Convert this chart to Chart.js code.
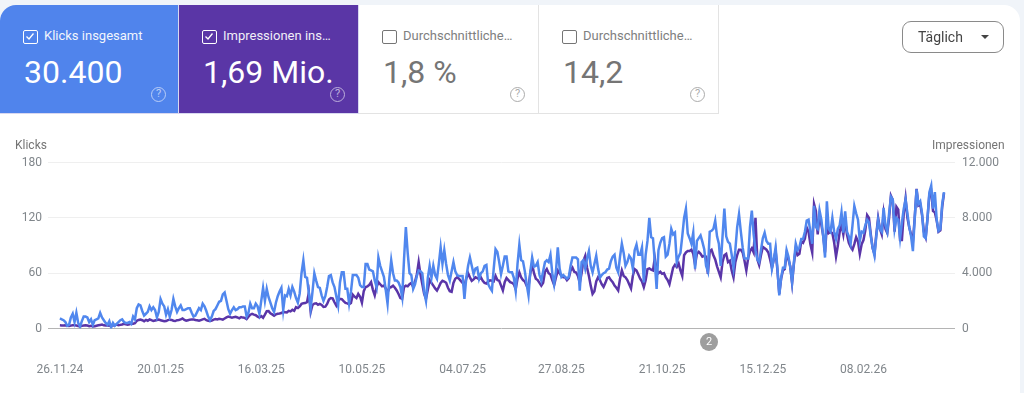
<!DOCTYPE html>
<html lang="de">
<head>
<meta charset="utf-8">
<title>Leistung</title>
<script src="https://cdn.jsdelivr.net/npm/chart.js@4"></script>
<style>
  html, body { margin: 0; padding: 0; background: #f0f4f9; }
  body { width: 1024px; height: 393px; overflow: hidden; position: relative; font-family: Roboto, sans-serif; }
  #panel { position: absolute; left: 0; top: 5px; width: 1020px; height: 388px; background: #fff; border-radius: 16px 16px 0 0; }
  #chart { position: absolute; left: 0; top: 0; }
  .card { position: absolute; top: 5px; height: 109px; box-sizing: border-box; color: #757575; background: #fff; border-right: 1px solid #e3e3e3; border-bottom: 1px solid #e3e3e3; }
  .card.on { color: #fff; border-color: #d8d8f0; }
  .card .box { position: absolute; left: 23px; top: 25px; width: 15px; height: 14px; box-sizing: border-box; border: 1.5px solid #757575; border-radius: 2px; }
  .card.on .box { border-color: #fff; }
  .card .box svg { position: absolute; left: 1px; top: 1px; }
  .card .name { position: absolute; left: 44px; top: 22px; font-size: 13px; line-height: 17px; white-space: nowrap; opacity: .92; }
  .card .val { position: absolute; left: 24px; top: 47px; font-size: 32px; line-height: 40px; white-space: nowrap; }
  .card .help { position: absolute; left: 151px; top: 82px; width: 15px; height: 15px; box-sizing: border-box; border: 1.5px solid currentColor; border-radius: 50%; font-size: 11px; line-height: 12px; text-align: center; opacity: .6; }
  .axis-name { position: absolute; top: 138px; font-size: 12px; line-height: 14px; color: #757575; }
  #range { position: absolute; left: 902px; top: 21px; width: 102px; height: 32px; box-sizing: border-box; border: 1px solid #8a8a8a; border-radius: 9px; font-size: 14px; line-height: 30px; color: #444; padding-left: 15px; }
  #range i { position: absolute; left: 78px; top: 13px; width: 0; height: 0; border-left: 4.5px solid transparent; border-right: 4.5px solid transparent; border-top: 4.5px solid #444; }
  #note { position: absolute; left: 700px; top: 333px; width: 18px; height: 18px; border-radius: 50%; background: #9e9e9e; color: #fff; font-size: 11px; line-height: 18px; text-align: center; }
</style>
</head>
<body>
<div id="panel"></div>
<canvas id="chart" width="1024" height="393"></canvas>

<div class="card on" style="left:0;width:179px;background:#5084ec;border-radius:16px 0 0 0">
  <div class="box"><svg width="10" height="9" viewBox="0 0 10 9"><path d="M1.5 4.5 L4 7 L8.5 1.5" fill="none" stroke="#fff" stroke-width="1.3"/></svg></div>
  <div class="name">Klicks insgesamt</div><div class="val">30.400</div><div class="help">?</div>
</div>
<div class="card on" style="left:179px;width:180px;background:#5a36a6">
  <div class="box"><svg width="10" height="9" viewBox="0 0 10 9"><path d="M1.5 4.5 L4 7 L8.5 1.5" fill="none" stroke="#fff" stroke-width="1.3"/></svg></div>
  <div class="name">Impressionen ins…</div><div class="val">1,69 Mio.</div><div class="help">?</div>
</div>
<div class="card" style="left:359px;width:180px">
  <div class="box"></div><div class="name">Durchschnittliche…</div><div class="val">1,8 %</div><div class="help">?</div>
</div>
<div class="card" style="left:539px;width:180px">
  <div class="box"></div><div class="name">Durchschnittliche…</div><div class="val">14,2</div><div class="help">?</div>
</div>

<div id="range">Täglich<i></i></div>
<div class="axis-name" style="left:15px">Klicks</div>
<div class="axis-name" style="left:932px">Impressionen</div>
<div id="note">2</div>

<script>
// Tagesindex der Achsenbeschriftungen und ihre Texte
const tickDays = [0, 55, 110, 165, 220, 274, 329, 384, 439];
const tickLabels = ['26.11.24', '20.01.25', '16.03.25', '10.05.25', '04.07.25', '27.08.25', '21.10.25', '15.12.25', '08.02.26'];

const clickTicks = [0, 60, 120, 180];
const impressionTicks = [0, 4000, 8000, 12000];

// Klicks pro Tag
const klicks = [
  11,10,9,7,3,4,12,16,7,17,
  6,2,8,13,13,12,7,10,4,9,
  10,11,17,12,9,6,4,8,1,6,
  3,5,7,9,10,7,6,6,7,5,
  13,10,22,26,25,19,14,16,18,24,
  20,23,20,12,18,32,27,24,15,21,
  13,20,32,24,18,22,25,20,20,21,
  22,22,17,13,14,18,22,20,27,24,
  19,13,9,13,19,21,25,29,30,37,
  39,30,21,16,20,23,20,21,23,23,
  24,24,13,17,27,22,22,27,24,16,
  30,44,30,43,34,28,22,18,28,35,
  40,44,20,36,35,43,36,45,40,33,
  28,38,60,74,56,55,38,22,40,60,
  52,45,44,36,30,35,45,57,58,50,
  45,35,25,50,61,61,43,43,27,40,
  58,58,58,55,47,45,45,70,70,64,
  63,62,52,45,77,68,62,56,42,27,
  55,74,60,52,52,50,45,34,75,110,
  82,60,58,43,48,57,63,62,60,40,
  30,55,68,55,68,58,54,70,88,70,
  85,70,58,52,62,72,62,58,57,57,
  57,32,55,68,77,68,59,65,66,54,
  60,62,68,69,48,44,41,65,86,83,
  72,59,68,78,78,62,61,61,55,41,
  70,91,74,73,62,48,36,62,77,67,
  68,72,58,52,62,72,74,72,80,60,
  48,62,88,65,56,58,56,54,56,68,
  77,77,77,75,41,72,74,65,76,84,
  68,61,70,79,65,55,58,60,61,64,
  65,73,78,80,66,61,78,92,82,68,
  72,79,76,65,85,91,80,80,88,50,
  80,95,120,99,98,72,43,85,93,98,
  99,78,80,92,108,102,104,72,78,82,
  100,120,130,103,98,92,104,65,95,98,
  101,94,86,68,62,105,106,108,117,100,
  92,68,100,130,100,94,92,80,66,85,
  110,124,105,88,76,76,76,110,128,102,
  85,75,72,85,98,104,95,92,92,65,
  75,88,65,36,55,66,66,85,78,66,
  50,72,92,85,88,97,97,105,117,118,
  105,92,133,110,108,128,118,100,77,138,
  108,105,120,105,97,108,112,126,104,127,
  105,100,92,112,133,125,118,95,105,104,
  112,118,115,100,88,79,100,118,108,105,
  131,112,105,125,143,140,108,120,118,98,
  115,130,140,125,110,100,84,120,151,135,
  138,125,100,98,120,148,155,130,148,118,
  106,108,135,148
];

// Impressionen pro Tag
const impressionen = [
  230,220,210,230,200,190,210,240,230,220,
  180,150,190,220,230,210,170,200,140,160,
  200,240,260,280,230,210,220,200,240,220,
  230,280,230,260,290,340,300,270,300,350,
  340,380,560,620,640,600,530,620,560,650,
  600,540,580,620,640,600,560,520,540,610,
  640,620,560,540,600,620,660,720,620,560,
  600,640,660,660,620,590,560,610,660,700,
  600,560,540,570,640,680,650,700,680,640,
  720,800,860,820,780,820,840,800,740,830,
  790,770,680,850,1000,1060,1000,960,860,800,
  900,780,1000,1250,1260,1100,1020,930,1020,1060,
  1080,1120,1200,1180,1160,1280,1240,1350,1280,1540,
  1480,1600,1780,1820,1840,1900,2600,1200,1700,1800,
  1820,1720,1780,1700,1560,1580,1780,2100,2200,2180,
  1900,1660,2000,2150,2120,1980,1850,1820,1750,1850,
  2450,2300,2200,2500,2300,1870,2700,3000,3050,3150,
  3350,2800,2400,3000,3350,3200,3050,3100,2900,2600,
  2950,3000,3100,2950,2750,2500,2200,2150,3000,3100,
  3050,3200,3300,3000,3400,3900,4800,3900,3200,2500,
  2150,2800,3500,3300,3100,2900,2750,3000,3300,3450,
  3400,3300,2950,2700,2650,3300,3600,3700,3600,3450,
  3300,3100,3600,4000,3700,3450,3550,3700,3650,3550,
  3700,3450,3300,3250,3400,3480,3450,3400,3800,3500,
  3450,3100,2750,3350,3650,3500,3350,3300,3200,2850,
  3600,4050,3700,3500,3400,3100,3050,4000,4650,4000,
  3600,3500,3300,3100,3300,4100,4300,4000,3900,3500,
  3150,3700,4200,4000,3800,3700,3700,3500,3650,4200,
  4400,4100,4050,3800,3300,4000,4900,5250,4400,3800,
  3100,2500,2700,3400,3700,3500,3200,3000,3300,3650,
  3700,3500,3350,3100,2950,2750,3600,4200,3800,3700,
  3500,3200,2900,3800,4300,4200,3900,3600,3400,3000,
  3500,4300,4350,4250,4200,5100,4200,4000,4100,3950,
  4000,3700,3500,3200,3800,4400,4600,4450,4700,4200,
  3800,5300,5500,5600,5600,5700,5400,4600,5400,5550,
  5400,5200,5250,5200,3950,5600,5700,5300,5000,4500,
  4100,3700,4800,5300,5400,4800,4900,4200,3700,4800,
  5300,5700,5700,5500,4900,4200,5100,5600,5800,5500,
  8000,5000,4600,5300,5900,5800,5700,5500,5000,4400,
  5000,5600,4200,2500,3600,4200,4300,5400,5000,4500,
  3300,4700,5800,5300,5400,6300,6200,6500,7300,7000,
  6100,5500,9000,8500,6800,8200,7500,6700,5500,7500,
  6900,7000,6900,6200,5200,6000,7000,7500,6800,7800,
  6800,6200,5900,5700,6100,6600,6300,5400,6100,6400,
  7100,8200,8000,6800,5800,5400,6800,8000,7200,6800,
  8300,7200,6900,8000,9600,9300,7000,8800,8600,6400,
  6400,8300,9400,8000,7300,6800,6300,8000,10100,8900,
  9000,8200,7000,6600,8000,9700,9900,8500,8400,7800,
  7000,7100,8800,9800
];

const tickFont = { family: 'Roboto', size: 12 };
const tickColor = '#80868b';

new Chart(document.getElementById('chart').getContext('2d'), {
    type: 'line',
    data: {
        datasets: [
            {
                label: 'Klicks',
                data: klicks.map(function(v, i) { return { x: i, y: v }; }),
                borderColor: '#5087ee',
                borderWidth: 2.5,
                pointRadius: 0,
                yAxisID: 'y'
            },
            {
                label: 'Impressionen',
                data: impressionen.map(function(v, i) { return { x: i, y: v }; }),
                borderColor: '#5a35a8',
                borderWidth: 2.5,
                pointRadius: 0,
                yAxisID: 'y2'
            }
        ]
    },
    options: {
        responsive: false,
        animation: false,
        layout: { padding: { top: 162.6, left: 0, right: 0, bottom: 0 } },
        plugins: { legend: { display: false }, tooltip: { enabled: false } },
        scales: {
            x: {
                type: 'linear',
                min: -6.5,
                max: 489,
                afterBuildTicks: function(scale) {
                    scale.ticks = tickDays.map(function(d) { return { value: d }; });
                },
                afterFit: function(scale) { scale.height = 64.5; },
                grid: { display: false },
                border: { display: false },
                ticks: {
                    font: tickFont,
                    color: tickColor,
                    padding: 26,
                    maxRotation: 0,
                    autoSkip: false,
                    callback: function(value) { return tickLabels[tickDays.indexOf(value)]; }
                }
            },
            y: {
                position: 'left',
                min: 0,
                max: 180,
                afterBuildTicks: function(scale) {
                    scale.ticks = clickTicks.map(function(v) { return { value: v }; });
                },
                afterFit: function(scale) { scale.width = 48; },
                grid: {
                    drawTicks: false,
                    color: function(ctx) { return ctx.tick && ctx.tick.value === 0 ? '#b4b4b4' : '#efefef'; }
                },
                border: { display: false },
                ticks: { font: tickFont, color: tickColor, padding: 6 }
            },
            y2: {
                position: 'right',
                min: 0,
                max: 12000,
                afterBuildTicks: function(scale) {
                    scale.ticks = impressionTicks.map(function(v) { return { value: v }; });
                },
                afterFit: function(scale) { scale.width = 69; },
                grid: { display: false, drawTicks: false },
                border: { display: false },
                ticks: {
                    font: tickFont,
                    color: tickColor,
                    padding: 7,
                    callback: function(value) { return value.toLocaleString('de-DE'); }
                }
            }
        }
    }
});
</script>
</body>
</html>
